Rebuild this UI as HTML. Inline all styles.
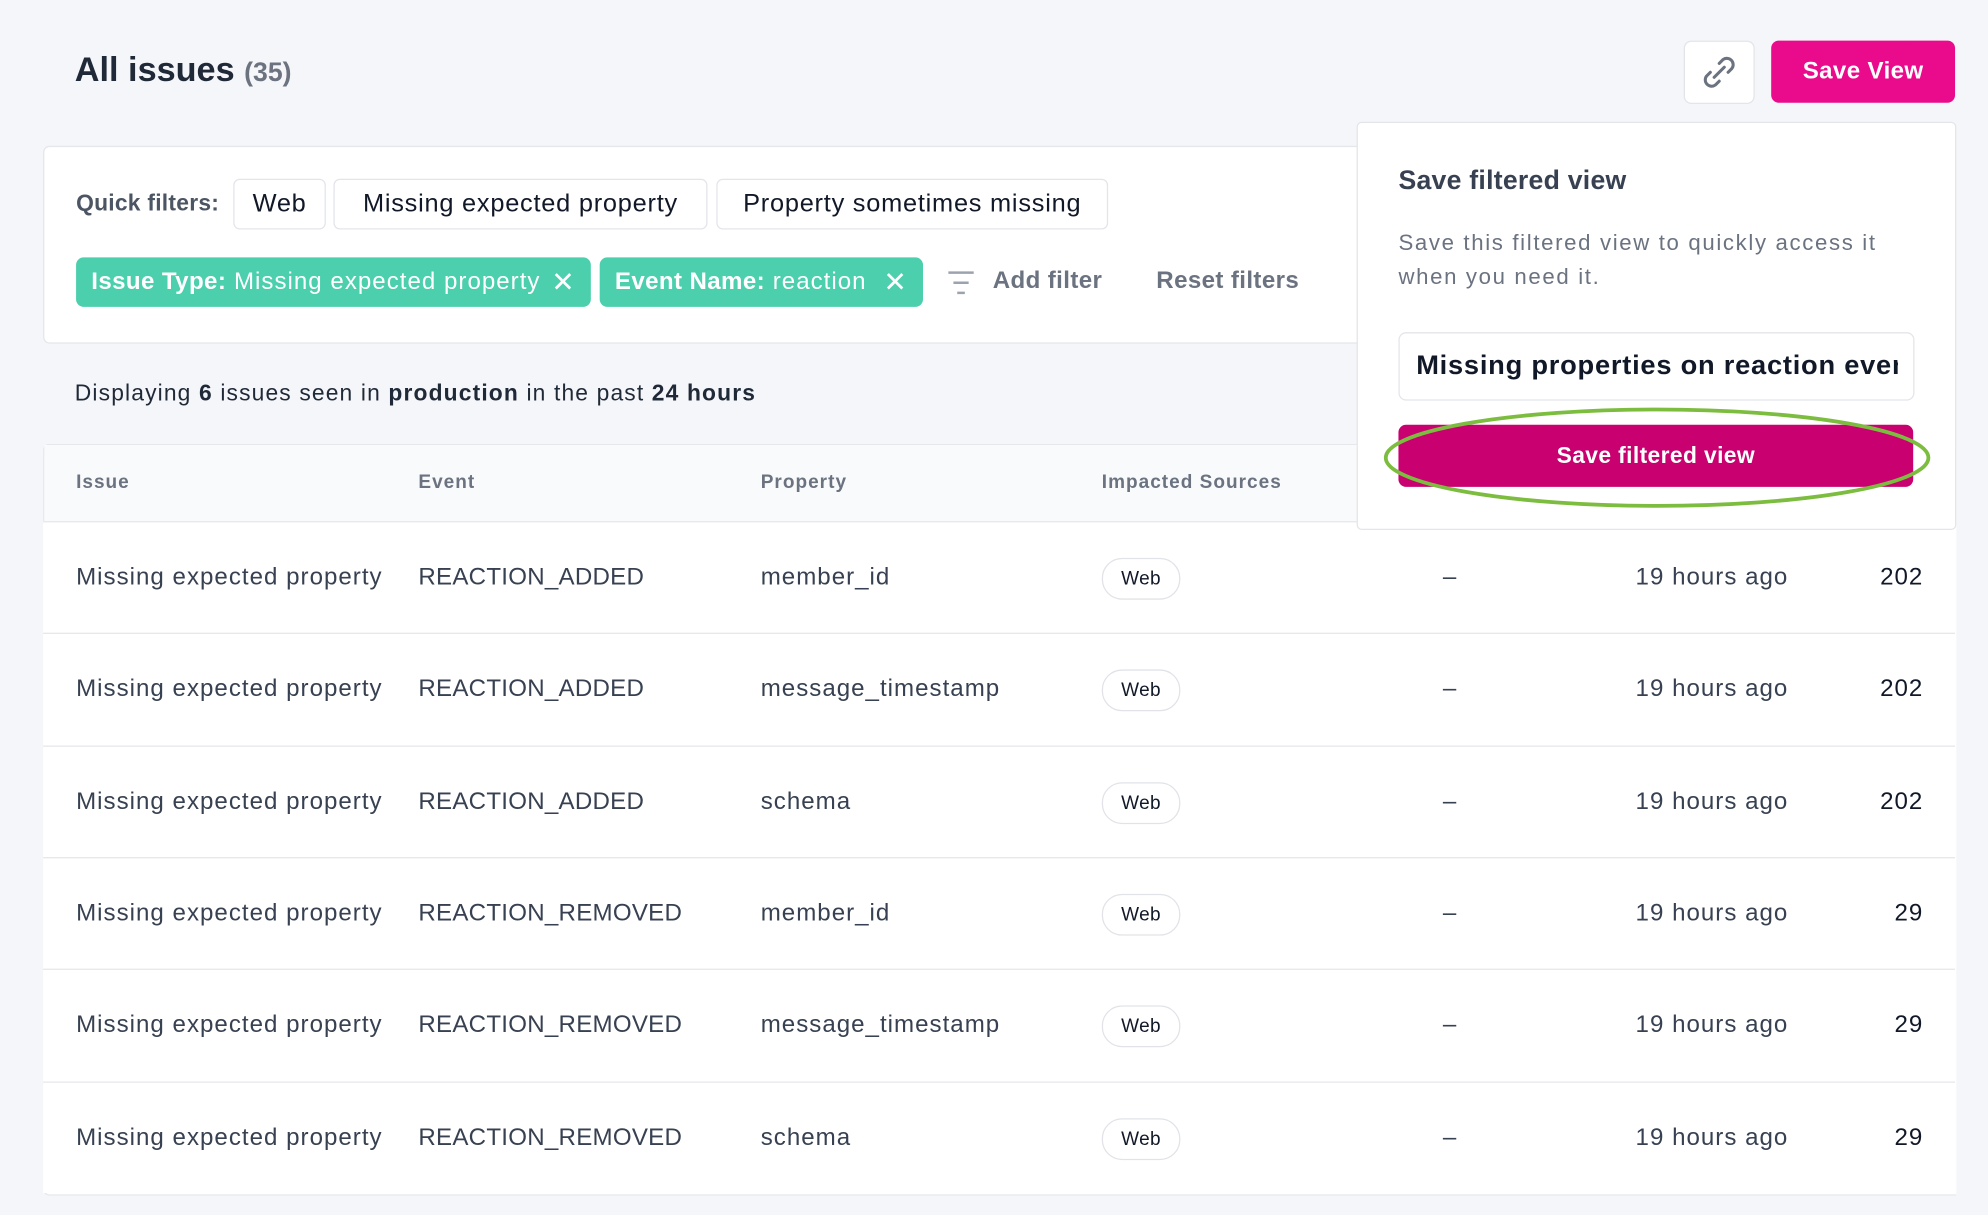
<!DOCTYPE html>
<html><head><meta charset="utf-8"><style>
html,body{margin:0;padding:0;width:1988px;height:1214px;overflow:hidden;background:#f5f6f9;}
#w{position:absolute;left:0;top:0;width:1568px;height:958px;transform:scale(1.26786);transform-origin:0 0;font-family:"Liberation Sans",sans-serif;color:#374151;letter-spacing:0.8px;}
.a{position:absolute;white-space:nowrap;}
.chip{position:absolute;top:141px;height:38px;border:1px solid #e3e5ea;border-radius:5px;background:#fff;font-size:20px;line-height:38px;color:#111827;text-align:center;letter-spacing:0.6px;}
.g{position:absolute;top:203px;height:39px;border-radius:6px;background:#4bcfac;color:#fff;font-size:19px;line-height:39px;padding-left:12px;box-sizing:border-box;}
.g b{font-weight:bold;letter-spacing:0.3px}
.row{position:absolute;left:34px;width:1508px;height:88px;border-top:1px solid #e5e7eb;background:#fff;font-size:19px;color:#374151;}
.row span{position:absolute;top:0;line-height:88px;white-space:nowrap;}
.row span.e{letter-spacing:0.2px}
.pill{position:absolute;left:835px;top:28px;width:60px;height:31px;border:1px solid #e1e3e8;border-radius:16px;font-size:15px;line-height:31px;text-align:center;color:#111827;letter-spacing:0.3px;}
.h{position:absolute;top:372px;font-size:15px;color:#6b7280;font-weight:bold;}
</style></head><body><div id="w">
<div class="a" style="left:59px;top:40px;font-size:27px;font-weight:bold;color:#1f2937;letter-spacing:0;">All issues <span style="font-size:21px;color:#6b7280;font-weight:bold">(35)</span></div>
<div class="a" style="left:1328px;top:32px;width:54px;height:48px;background:#fff;border:1px solid #e3e5ea;border-radius:6px;">
<svg width="54" height="48" viewBox="0 0 54 48"><g fill="none" stroke="#6b7280" stroke-width="2.4" stroke-linecap="round"><path d="M27 17 l3-3 a5 5 0 0 1 7 7 l-3 3"/><path d="M27 31 l-3 3 a5 5 0 0 1 -7 -7 l3-3"/><path d="M23 28 l8-8"/></g></svg></div>
<div class="a" style="left:1397px;top:32px;width:145px;height:49px;background:#ea0a8c;border-radius:6px;color:#fff;font-size:19px;line-height:49px;text-align:center;font-weight:bold;letter-spacing:0.3px;">Save View</div>

<div class="a" style="left:34px;top:115px;width:1506px;height:154px;background:#fff;border:1px solid #e5e7eb;border-radius:5px;"></div>
<div class="a" style="left:60px;top:150px;font-size:18px;font-weight:bold;color:#4b5563;letter-spacing:0.2px;">Quick filters:</div>
<div class="chip" style="left:184px;width:71px;">Web</div>
<div class="chip" style="left:263px;width:293px;">Missing expected property</div>
<div class="chip" style="left:565px;width:307px;">Property sometimes missing</div>
<div class="g" style="left:60px;width:406px;"><b>Issue Type:</b> Missing expected property <span style="position:absolute;right:12px;font-size:22px">✕</span></div>
<div class="g" style="left:473px;width:255px;"><b>Event Name:</b> reaction <span style="position:absolute;right:12px;font-size:22px">✕</span></div>
<svg class="a" style="left:747px;top:212px" width="22" height="22"><g stroke="#9ca3af" stroke-width="2"><line x1="1" y1="3" x2="21" y2="3"/><line x1="5" y1="11" x2="17" y2="11"/><line x1="8" y1="19" x2="14" y2="19"/></g></svg>
<div class="a" style="left:783px;top:211px;font-size:19px;font-weight:bold;color:#6b7280;letter-spacing:0.3px;">Add filter</div>
<div class="a" style="left:912px;top:211px;font-size:19px;font-weight:bold;color:#6b7280;letter-spacing:0.3px;">Reset filters</div>

<div class="a" style="left:59px;top:300px;font-size:18px;color:#1f2937;letter-spacing:0.9px;">Displaying <b>6</b> issues seen in <b>production</b> in the past <b>24 hours</b></div>

<div class="a" style="left:34px;top:350px;width:1508px;height:591px;background:#fff;border:1px solid #e5e7eb;border-right:none;border-radius:5px 0 0 5px;"></div>
<div class="a" style="left:35px;top:351px;width:1507px;height:60px;background:#f9fafb;"></div>
<div class="h" style="left:60px">Issue</div><div class="h" style="left:330px">Event</div><div class="h" style="left:600px">Property</div><div class="h" style="left:869px">Impacted Sources</div>

<div class="row" style="top:411px"><span style="left:26px">Missing expected property</span><span class="e" style="left:296px">REACTION_ADDED</span><span style="left:566px">member_id</span><div class="pill">Web</div><span style="left:1104px">–</span><span style="left:1256px">19 hours ago</span><span style="right:25px;color:#111827">202</span></div>
<div class="row" style="top:499px"><span style="left:26px">Missing expected property</span><span class="e" style="left:296px">REACTION_ADDED</span><span style="left:566px">message_timestamp</span><div class="pill">Web</div><span style="left:1104px">–</span><span style="left:1256px">19 hours ago</span><span style="right:25px;color:#111827">202</span></div>
<div class="row" style="top:588px"><span style="left:26px">Missing expected property</span><span class="e" style="left:296px">REACTION_ADDED</span><span style="left:566px">schema</span><div class="pill">Web</div><span style="left:1104px">–</span><span style="left:1256px">19 hours ago</span><span style="right:25px;color:#111827">202</span></div>
<div class="row" style="top:676px"><span style="left:26px">Missing expected property</span><span class="e" style="left:296px">REACTION_REMOVED</span><span style="left:566px">member_id</span><div class="pill">Web</div><span style="left:1104px">–</span><span style="left:1256px">19 hours ago</span><span style="right:25px;color:#111827">29</span></div>
<div class="row" style="top:764px"><span style="left:26px">Missing expected property</span><span class="e" style="left:296px">REACTION_REMOVED</span><span style="left:566px">message_timestamp</span><div class="pill">Web</div><span style="left:1104px">–</span><span style="left:1256px">19 hours ago</span><span style="right:25px;color:#111827">29</span></div>
<div class="row" style="top:853px;height:87px;"><span style="left:26px">Missing expected property</span><span class="e" style="left:296px">REACTION_REMOVED</span><span style="left:566px">schema</span><div class="pill">Web</div><span style="left:1104px">–</span><span style="left:1256px">19 hours ago</span><span style="right:25px;color:#111827">29</span></div>

<div class="a" style="left:1070px;top:96px;width:471px;height:320px;background:#fff;border:1px solid #e3e5ea;border-radius:4px;"></div>
<div class="a" style="left:1103px;top:131px;font-size:21px;font-weight:bold;color:#374151;letter-spacing:0.2px;">Save filtered view</div>
<div class="a" style="left:1103px;top:178px;font-size:17.5px;line-height:27px;color:#6b7280;letter-spacing:1.3px;">Save this filtered view to quickly access it<br>when you need it.</div>
<div class="a" style="left:1103px;top:262px;width:405px;height:52px;border:1px solid #e3e5ea;border-radius:6px;background:#fff;overflow:hidden;"><div class="a" style="left:13px;top:13px;font-size:21.5px;font-weight:bold;color:#111827;letter-spacing:0.6px;width:380px;overflow:hidden;">Missing properties on reaction events</div></div>
<div class="a" style="left:1103px;top:335px;width:406px;height:49px;background:#c9006f;border-radius:6px;color:#fff;font-size:18px;font-weight:bold;line-height:49px;text-align:center;letter-spacing:0.3px;">Save filtered view</div>
<svg class="a" style="left:1085px;top:315px" width="445" height="92"><ellipse cx="222" cy="46" rx="214" ry="38" fill="none" stroke="#7cbd3f" stroke-width="3"/></svg>
</div></body></html>
